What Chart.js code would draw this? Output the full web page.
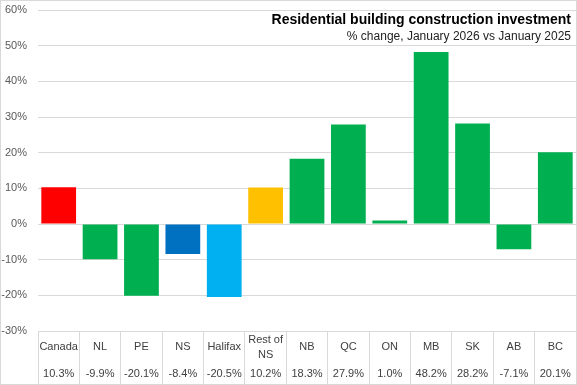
<!DOCTYPE html>
<html>
<head>
<meta charset="utf-8">
<script src="https://cdn.jsdelivr.net/npm/chart.js@4"></script>
<style>
    html, body { margin: 0; padding: 0; background: #fff; }
    #wrap { width: 577px; height: 385px; position: relative; }
</style>
</head>
<body>
<div id="wrap"><canvas id="chart"></canvas></div>
<script>
const categories = ['Canada', 'NL', 'PE', 'NS', 'Halifax', ['Rest of', 'NS'], 'NB', 'QC', 'ON', 'MB', 'SK', 'AB', 'BC'];
const changes = [10.3, -9.9, -20.1, -8.4, -20.5, 10.2, 18.3, 27.9, 1.0, 48.2, 28.2, -7.1, 20.1];
const barColors = ['#ff0000', '#00b050', '#00b050', '#0070c0', '#00b0f0', '#ffc000', '#00b050', '#00b050', '#00b050', '#00b050', '#00b050', '#00b050', '#00b050'];
const yTicks = [-30, -20, -10, 0, 10, 20, 30, 40, 50, 60];

const TITLE = 'Residential building construction investment';
const SUBTITLE = '% change, January 2026 vs January 2025';

const FONT = "'Liberation Sans', Arial, sans-serif";
const GRID = '#d9d9d9';
const TEXT = '#404040';

// data table under the plot + titles + outer border
const extras = {
    id: 'extras',
    afterDraw(chart) {
        const ctx = chart.ctx;
        const x = chart.scales.x;
        const area = chart.chartArea;
        ctx.save();
        ctx.fillStyle = TEXT;
        ctx.textAlign = 'center';
        ctx.textBaseline = 'middle';
        ctx.font = '11px ' + FONT;
        categories.forEach((cat, i) => {
            const cx = x.getPixelForValue(i);
            if (Array.isArray(cat)) {
                ctx.fillText(cat[0], cx, area.bottom + 9);
                ctx.fillText(cat[1], cx, area.bottom + 24);
            } else {
                ctx.fillText(cat, cx, area.bottom + 16);
            }
            ctx.fillText(changes[i].toFixed(1) + '%', cx, area.bottom + 43);
        });

        ctx.textAlign = 'right';
        ctx.fillStyle = '#000';
        ctx.font = 'bold 14px ' + FONT;
        ctx.fillText(TITLE, area.right - 5, 20);
        ctx.fillStyle = '#222';
        ctx.font = '12px ' + FONT;
        ctx.fillText(SUBTITLE, area.right - 5, 37);

        ctx.strokeStyle = GRID;
        ctx.lineWidth = 1;
        ctx.strokeRect(0.5, 0.5, chart.width - 1, chart.height - 1);
        ctx.restore();
    }
};

new Chart(document.getElementById('chart'), {
    type: 'bar',
    data: {
        labels: categories,
        datasets: [{
            data: changes,
            backgroundColor: barColors,
            categoryPercentage: 1,
            barPercentage: 0.84
        }]
    },
    options: {
        responsive: true,
        maintainAspectRatio: false,
        animation: false,
        layout: { padding: { top: 10, right: 1, left: 0, bottom: 0 } },
        plugins: {
            legend: { display: false },
            tooltip: { enabled: false }
        },
        scales: {
            x: {
                offset: true,
                ticks: { display: false },
                grid: {
                    offset: true,
                    drawOnChartArea: false,
                    drawTicks: true,
                    tickLength: 54,
                    color: GRID
                },
                border: { color: GRID },
                afterFit: scale => { scale.height = 54; }
            },
            y: {
                min: yTicks[0],
                max: yTicks[yTicks.length - 1],
                afterBuildTicks: scale => { scale.ticks = yTicks.map(v => ({ value: v })); },
                ticks: {
                    callback: v => v + '%',
                    color: '#595959',
                    padding: 11,
                    font: { size: 11, family: FONT }
                },
                grid: { color: GRID, drawTicks: false },
                border: { display: false },
                afterFit: scale => {
                    scale.width = 38;
                    scale.paddingTop = 0;
                    scale.paddingBottom = 0;
                }
            }
        }
    },
    plugins: [extras]
});
</script>
</body>
</html>
